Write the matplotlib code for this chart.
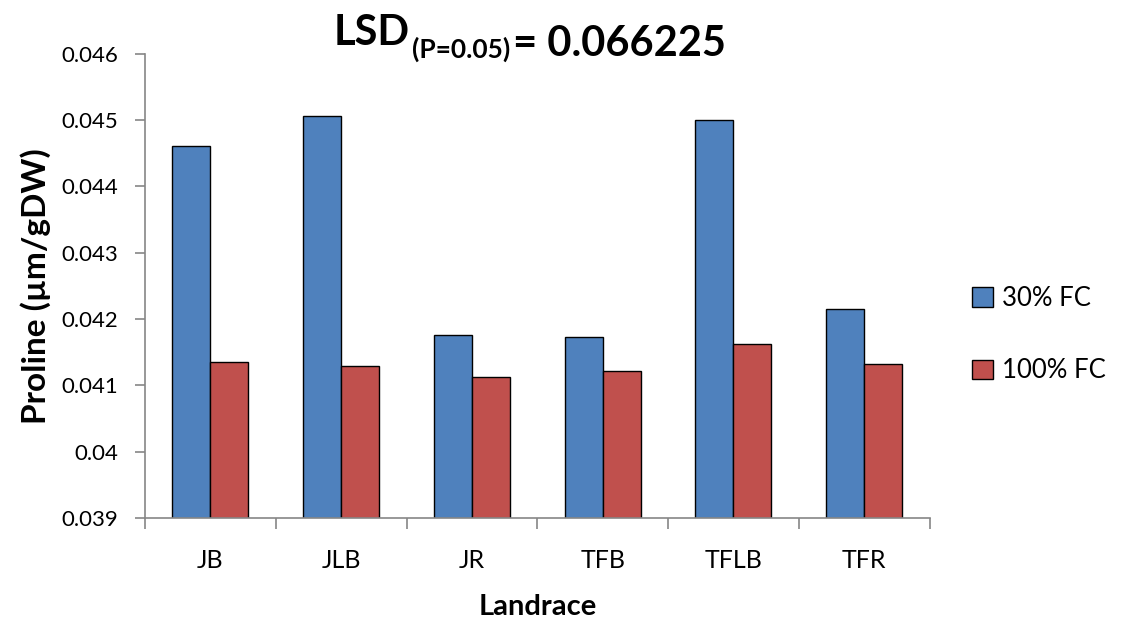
import numpy as np
import matplotlib.pyplot as plt

landraces = ["JB", "JLB", "JR", "TFB", "TFLB", "TFR"]
fc30 = [0.04461, 0.04506, 0.04176, 0.04173, 0.04500, 0.04215]
fc100 = [0.04135, 0.04129, 0.04113, 0.04122, 0.04162, 0.04132]

plt.rcParams["font.family"] = ["Lato", "DejaVu Sans"]

fig = plt.figure(figsize=(11.24, 6.19), dpi=100)
ax = fig.add_axes([0.129, 0.163, 0.698, 0.750])

x = np.arange(len(landraces))
w = 0.29
ax.bar(x - w / 2, fc30, w, color="#4F81BD", edgecolor="black", linewidth=1, label="30% FC")
ax.bar(x + w / 2, fc100, w, color="#C0504D", edgecolor="black", linewidth=1, label="100% FC")

ax.set_xlim(-0.5, len(landraces) - 0.5)
ax.set_ylim(0.039, 0.046)
ax.set_yticks(np.arange(0.039, 0.0461, 0.001))
ax.set_yticklabels(["0.039", "0.04", "0.041", "0.042", "0.043", "0.044", "0.045", "0.046"])
ax.set_xticks(x)
ax.set_xticklabels(landraces)
ax.set_xticks(np.arange(-0.5, len(landraces), 1), minor=True)
ax.tick_params(axis="x", which="major", length=0, labelsize=18, pad=22)
ax.tick_params(axis="x", which="minor", length=8, color="#868686", width=1.2)
ax.tick_params(axis="y", length=7, labelsize=16, color="#868686", width=1.2, pad=12)

for s in ["top", "right"]:
    ax.spines[s].set_visible(False)
for s in ["left", "bottom"]:
    ax.spines[s].set_color("#868686")
    ax.spines[s].set_linewidth(1.2)

ax.set_ylabel("Proline (µm/gDW)", fontsize=24, fontweight="bold", labelpad=8)
ax.set_xlabel("Landrace", fontsize=21, fontweight="bold", labelpad=16)

# title built from pieces so the subscript stays bold and tight
t1 = fig.text(334 / 1124, 1 - 45 / 619, "LSD", fontsize=30, fontweight="bold", va="baseline")
t2 = ax.annotate("(P=0.05)", xy=(1, 0), xycoords=t1, xytext=(1, -4), textcoords="offset points",
                 fontsize=19, fontweight="bold", va="baseline", annotation_clip=False)
t3 = ax.annotate("= 0.066225", xy=(1, 0), xycoords=t2, xytext=(2, 4), textcoords="offset points",
                 fontsize=30, fontweight="bold", va="baseline", annotation_clip=False)

ax.legend(loc="center left", bbox_to_anchor=(1.025, 0.395), frameon=False, fontsize=18.5,
          handlelength=0.8, handleheight=0.8, handletextpad=0.35, labelspacing=1.85)

fig.savefig("out.png", dpi=100)
